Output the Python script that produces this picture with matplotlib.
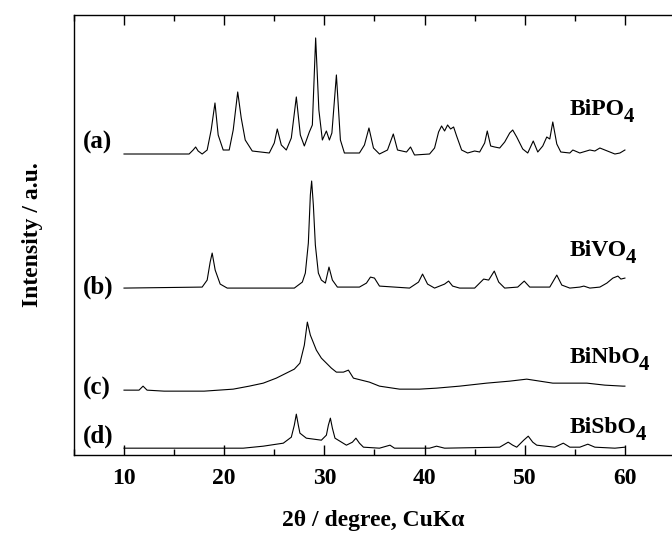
import matplotlib
matplotlib.use("Agg")
import matplotlib.pyplot as plt
from matplotlib.ticker import MultipleLocator

plt.rcParams['font.family'] = ['Liberation Serif', 'DejaVu Serif']
plt.rcParams['font.weight'] = 'bold'

# XRD patterns (2theta, intensity in a.u. incl. offset)
tt_a = [10, 16.5, 16.9, 17.15, 17.4, 17.8, 18.3, 18.7, 19.08, 19.4, 19.9, 20.5, 20.9, 21.35, 21.7,
        22.1, 22.8, 24.5, 25.0, 25.3, 25.7, 26.2, 26.7, 27.2, 27.6, 28.0, 28.5, 28.8, 29.13, 29.45,
        29.8, 30.2, 30.5, 30.75, 31.2, 31.6, 32.0, 33.5, 34.0, 34.45, 34.9, 35.5, 36.3, 36.88, 37.3,
        38.2, 38.6, 39.0, 40.5, 41.0, 41.4, 41.7, 42.0, 42.3, 42.6, 42.9, 43.2, 43.7, 44.3, 45.0,
        45.5, 46.0, 46.26, 46.6, 47.0, 47.5, 48.0, 48.5, 48.8, 49.2, 49.8, 50.3, 50.85, 51.3, 51.8,
        52.2, 52.5, 52.8, 53.2, 53.6, 54.5, 54.8, 55.5, 56.5, 57.0, 57.5, 58.0, 58.5, 59.0, 59.5, 60]
int_a = [301, 301, 305, 308, 304, 301, 305, 325, 352, 320, 305, 305, 325, 363, 337,
         315, 304, 302, 312, 326, 310, 305, 317, 358, 320, 309, 323, 330, 417, 345,
         315, 324, 315, 322, 380, 315, 302, 302, 310, 327, 307, 301, 305, 321, 305,
         303, 308, 300, 301, 307, 323, 329, 324, 330, 326, 328, 319, 305, 302, 304,
         303, 312, 324, 309, 308, 307, 313, 322, 325, 318, 306, 302, 314, 303, 309,
         318, 316, 333, 311, 303, 302, 305, 302, 305, 304, 307, 305, 303, 301, 302, 305]

tt_b = [10, 17.8, 18.3, 18.6, 18.8, 19.1, 19.6, 20.3, 27.0, 27.8, 28.1, 28.4, 28.6, 28.73, 28.9,
        29.1, 29.4, 29.7, 30.1, 30.46, 30.8, 31.3, 33.5, 34.2, 34.6, 35.0, 35.5, 38.5, 39.4, 39.8,
        40.3, 41.0, 42.0, 42.4, 42.8, 43.5, 45.0, 45.5, 45.9, 46.4, 46.96, 47.4, 48.0, 49.3, 49.95,
        50.5, 52.5, 53.2, 53.7, 54.5, 55.5, 55.9, 56.5, 57.5, 58.2, 58.8, 59.3, 59.6, 60]
int_b = [167, 168, 175, 193, 202, 185, 171, 167, 167, 173, 182, 212, 260, 274, 250,
         210, 182, 175, 172, 188, 175, 168, 168, 172, 178, 177, 169, 167, 173, 181,
         171, 167, 171, 174, 169, 167, 167, 172, 176, 175, 184, 173, 167, 168, 174,
         168, 168, 180, 170, 167, 168, 169, 167, 168, 172, 177, 179, 176, 177]

tt_c = [10, 11.5, 11.9, 12.3, 14, 18, 20.9, 22.5, 23.9, 25.2, 26.2, 27.0, 27.56, 28.0, 28.3,
        28.6, 29.2, 29.7, 30.2, 30.7, 31.2, 31.9, 32.4, 32.9, 33.7, 34.5, 35.5, 37.5, 39.5, 41.2,
        43.5, 46.2, 48.5, 50.2, 51.5, 52.8, 56.2, 58, 59.8, 60]
int_c = [65, 65, 69, 65, 64, 64, 66, 69, 72, 77, 82, 86, 92, 110, 133,
         120, 105, 97, 92, 87, 83, 83, 85, 77, 75, 73, 69, 66, 66, 67,
         69, 72, 74, 76, 74, 72, 72, 70, 69, 69]

tt_d = [10, 21.9, 23.9, 25.9, 26.7, 27.0, 27.2, 27.4, 27.56, 28.2, 29.7, 30.2, 30.4, 30.6, 30.8,
        31.06, 32.2, 32.8, 33.15, 33.5, 33.9, 35.5, 36.55, 37, 40.5, 41.2, 42, 47.5, 48.35, 48.8,
        49.2, 49.9, 50.35, 50.8, 51.2, 53.0, 53.85, 54.5, 55.5, 56.3, 57.0, 59.0, 60]
int_d = [7, 7, 9, 12, 18, 30, 41, 30, 22, 17, 15, 20, 30, 37, 27,
         17, 10, 13, 17, 12, 8, 7, 10, 7, 7, 9, 7, 8, 13, 10,
         8, 15, 19, 13, 10, 8, 12, 8, 8, 11, 8, 7, 8]

tags = ['(a)', '(b)', '(c)', '(d)']
names = ['BiPO', 'BiVO', 'BiNbO', 'BiSbO']
tag_y = [313, 168, 67, 19]
name_y = [345, 205, 98, 28]

fig = plt.figure(figsize=(6.72, 5.33), dpi=100)
ax = fig.add_axes([0.110, 0.146, 0.89, 0.826])

for tt, inten in [(tt_a, int_a), (tt_b, int_b), (tt_c, int_c), (tt_d, int_d)]:
    ax.plot(tt, inten, color='black', lw=0.8)

for t, y in zip(tags, tag_y):
    ax.text(5.85, y, t, fontsize=18, fontweight='bold', va='center', ha='left')
for n, y in zip(names, name_y):
    txt = ax.text(54.5, y, n, fontsize=17, fontweight='bold', va='center', ha='left')
    ax.annotate('4', xy=(1.0, 0.0), xycoords=txt, xytext=(-1, -5),
                textcoords='offset points', fontsize=15, fontweight='bold',
                ha='left', va='bottom')

ax.set_xlim(5, 64.7)
ax.set_ylim(0, 440)
ax.spines['right'].set_visible(False)
for s in ['left', 'top', 'bottom']:
    ax.spines[s].set_linewidth(1.0)
ax.xaxis.set_major_locator(MultipleLocator(10))
ax.xaxis.set_minor_locator(MultipleLocator(5))
ax.tick_params(axis='x', which='major', direction='in', top=True, length=7, width=1,
               labelsize=17, pad=9)
ax.tick_params(axis='x', which='minor', direction='in', top=True, length=4, width=1)
ax.set_yticks([])
for lab in ax.get_xticklabels():
    lab.set_fontweight('bold')

ax.set_xlabel('2θ / degree, CuKα', fontsize=17, fontweight='bold', labelpad=15)
ax.set_ylabel('Intensity / a.u.', fontsize=17, fontweight='bold', labelpad=22)

fig.savefig('out.png', dpi=100)
